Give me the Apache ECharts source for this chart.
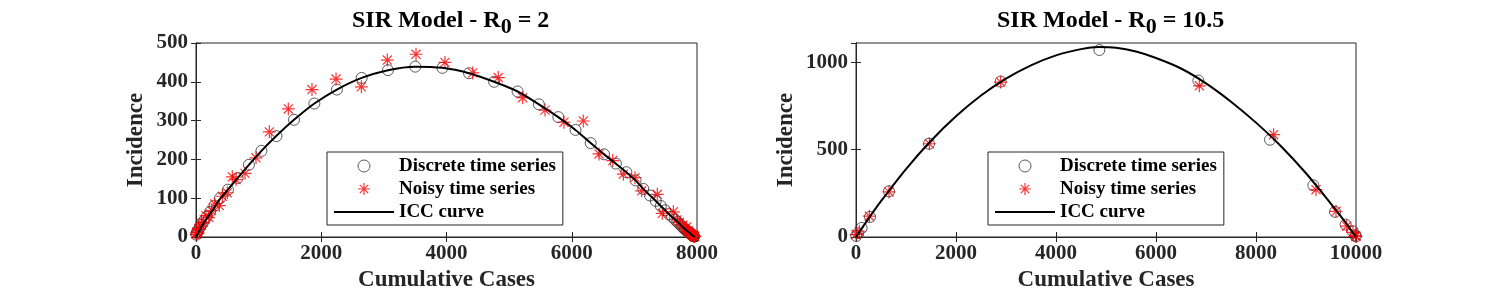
<!DOCTYPE html>
<html>
<head>
<meta charset="utf-8">
<script src="https://cdn.jsdelivr.net/npm/echarts@6/dist/echarts.min.js"></script>
<style>html,body{margin:0;padding:0;background:#fff}#c{width:1500px;height:300px}</style>
</head>
<body>
<div id="c"></div>
<script>
// ---- Data: [cumulative cases, incidence] ----
const seriesNames = ['Discrete time series', 'Noisy time series', 'ICC curve'];
const xAxisLabel = 'Cumulative Cases';
const yAxisLabel = 'Incidence';

// Left panel: SIR Model - R0 = 2
const r2Discrete = [[4,6],[12,10],[24,14],[40,19],[62,25],[90,32],[125,41],[170,52],[225,65],[295,81],[383,100],[510,122],[665,152],[845,186],[1045,222],[1285,260],[1565,302],[1890,344],[2250,380],[2645,410],[3065,430],[3502,439],[3935,436],[4360,422],[4760,400],[5135,375],[5475,342],[5785,309],[6060,276],[6302,242],[6516,213],[6705,189],[6872,167],[7018,146],[7142,124],[7249,107],[7342,93],[7422,80],[7491,69],[7550,59],[7602,52],[7647,45],[7686,39],[7720,34],[7749,29],[7774,25],[7796,22],[7815,19],[7832,17],[7847,15],[7860,13],[7872,11.5],[7882,10],[7891,9],[7899,8],[7906,7],[7912,6.2],[7918,5.5],[7923,4.9],[7927,4.3],[7931,3.8],[7935,3.4],[7938,3],[7941,2.7],[7944,2.4],[7946,2.1],[7948,1.9],[7950,1.7],[7952,1.5]];
const r2Noisy = [[5,7],[14,12],[26,11],[40,22],[60,20],[88,35],[118,38],[160,55],[205,50],[250,68],[300,85],[372,81],[420,105],[500,114],[580,155],[640,148],[783,164],[958,204],[1171,271],[1474,330],[1852,380],[2236,407],[2640,387],[3055,456],[3513,471],[3976,450],[4419,423],[4827,411],[5217,359],[5573,327],[5876,296],[6184,299],[6435,214],[6654,197],[6824,162],[7010,153],[7117,119],[7366,110],[7446,61],[7622,65],[7680,44],[7720,38],[7760,30],[7800,22],[7835,26],[7860,15],[7880,12],[7900,9],[7915,7],[7930,5],[7940,4],[7950,3],[7958,2],[7965,1]];
const r2Curve = [[0,0],[120,35],[260,68],[383,98],[510,122],[665,152],[845,186],[1045,222],[1285,261],[1565,302],[1890,344],[2250,380],[2645,410],[3065,430],[3500,439],[3935,436],[4360,422],[4760,400],[5135,375],[5475,342],[5785,309],[6060,276],[6302,242],[6516,213],[6705,189],[6872,167],[7018,146],[7142,124],[7249,107],[7342,93],[7422,80],[7491,69],[7550,59],[7647,45],[7720,34],[7774,25],[7832,17],[7872,11.5],[7899,8],[7931,3.8],[7952,1.5],[7968,0]];

// Right panel: SIR Model - R0 = 10.5
const r105Discrete = [[3,6],[40,22],[113,52],[280,115],[660,262],[1460,534],[2893,890],[4867,1071],[6847,896],[8280,557],[9147,296],[9580,144],[9793,71],[9933,33],[9985,10],[9998,3]];
const r105Noisy = [[0,14],[67,33],[267,119],[660,258],[1467,534],[2893,887],[4880,1115],[6867,866],[8353,586],[9200,271],[9600,147],[9813,62],[9940,26],[9990,8],[10000,3]];
const r105Curve = [[0,0],[250,105],[500,205],[1000,389],[1500,551],[2000,691],[2500,810],[3000,907],[3500,983],[4000,1040],[4500,1076],[4850,1088],[5200,1084],[5600,1062],[6000,1025],[6500,965],[7000,880],[7500,775],[8000,655],[8500,520],[9000,365],[9500,190],[9800,80],[10000,0]];

const panels = [
  {title: '2', xMax: 8000, xInterval: 2000, yMax: 500, yInterval: 100, discrete: r2Discrete, noisy: r2Noisy, curve: r2Curve},
  {title: '10.5', xMax: 10000, xInterval: 2000, yMax: 1111, yInterval: 500, discrete: r105Discrete, noisy: r105Noisy, curve: r105Curve}
];

// ---- Layout / style ----
const FONT = '"Liberation Serif", "Times New Roman", serif';
const AX = '#262626';
const STAR = 'path://M5,0L5,10M0,5L10,5M1.5,1.5L8.5,8.5M8.5,1.5L1.5,8.5';
const gridPos = [{left:196, top:43, width:501, height:194}, {left:856, top:43, width:500, height:194}];
const titlePos = [{left:347}, {left:992}];
const legendPos = [{left:327, top:152}, {left:988, top:152}];
const yNameGap = [48, 58];
const plain = v => String(v);

const grid = [], xAxis = [], yAxis = [], series = [], title = [], legend = [];
panels.forEach((p, k) => {
  grid.push(Object.assign({show: true, borderColor: AX, borderWidth: 1, backgroundColor: '#fff', containLabel: false}, gridPos[k]));
  const common = {
    axisLine: {show: true, lineStyle: {color: AX, width: 1}},
    axisTick: {show: true, inside: true, length: 5, lineStyle: {color: AX, width: 1}},
    splitLine: {show: false}
  };
  xAxis.push(Object.assign({type: 'value', gridIndex: k, position: 'bottom', min: 0, max: p.xMax, interval: p.xInterval,
    axisLabel: {fontFamily: FONT, fontWeight: 'bold', fontSize: 21, color: AX, margin: 6, formatter: plain},
    name: xAxisLabel, nameLocation: 'middle', nameGap: 32,
    nameTextStyle: {fontFamily: FONT, fontWeight: 'bold', fontSize: 23, color: AX}}, common));
  xAxis.push(Object.assign({type: 'value', gridIndex: k, position: 'top', min: 0, max: p.xMax, interval: p.xInterval,
    axisLabel: {show: false}}, common));
  yAxis.push(Object.assign({type: 'value', gridIndex: k, position: 'left', min: 0, max: p.yMax, interval: p.yInterval,
    axisLabel: {fontFamily: FONT, fontWeight: 'bold', fontSize: 21, color: AX, margin: 8, formatter: plain, showMaxLabel: p.yMax % p.yInterval === 0},
    name: yAxisLabel, nameLocation: 'middle', nameGap: yNameGap[k], nameRotate: 90,
    nameTextStyle: {fontFamily: FONT, fontWeight: 'bold', fontSize: 23, color: AX}}, common));
  yAxis.push(Object.assign({type: 'value', gridIndex: k, position: 'right', min: 0, max: p.yMax, interval: p.yInterval,
    axisLabel: {show: false}}, common));

  series.push({name: seriesNames[0], type: 'scatter', xAxisIndex: 2*k, yAxisIndex: 2*k, data: p.discrete,
    symbol: 'circle', symbolSize: 11,
    itemStyle: {color: 'rgba(255,255,255,0)', borderColor: '#333', borderWidth: 1}, emphasis: {disabled: true}, z: 2});
  series.push({name: seriesNames[1], type: 'scatter', xAxisIndex: 2*k, yAxisIndex: 2*k, data: p.noisy,
    symbol: STAR, symbolSize: 13,
    itemStyle: {color: '#ff0000', borderColor: '#ff0000', borderWidth: 1.2}, emphasis: {disabled: true}, z: 3});
  series.push({name: seriesNames[2], type: 'line', xAxisIndex: 2*k, yAxisIndex: 2*k, data: p.curve,
    smooth: 0.3, symbol: 'none', showSymbol: false,
    lineStyle: {color: '#000', width: 2}, itemStyle: {color: '#000'}, emphasis: {disabled: true}, z: 4});

  title.push({
    text: '{a|SIR Model - R}{s|0}{a| = ' + p.title + '}',
    left: titlePos[k].left, top: 4,
    textStyle: {
      rich: {
        a: {fontFamily: FONT, fontWeight: 'bold', fontSize: 24, color: '#000', verticalAlign: 'top', lineHeight: 26},
        s: {fontFamily: FONT, fontWeight: 'bold', fontSize: 22, color: '#000', verticalAlign: 'top', lineHeight: 26, padding: [7,0,0,0]}
      }
    }
  });

  legend.push({
    orient: 'vertical', left: legendPos[k].left, top: legendPos[k].top,
    padding: [4, 7, 3, 7], itemGap: 3, itemWidth: 60, itemHeight: 12,
    borderColor: AX, borderWidth: 1, backgroundColor: '#fff', selectedMode: false,
    textStyle: {fontFamily: FONT, fontWeight: 'bold', fontSize: 19, color: '#000', lineHeight: 20},
    data: [
      {name: seriesNames[0], icon: 'circle', itemStyle: {color: 'rgba(255,255,255,0)', borderColor: '#333', borderWidth: 1}},
      {name: seriesNames[1], icon: STAR, itemStyle: {color: '#ff0000', borderColor: '#ff0000', borderWidth: 1.2}},
      {name: seriesNames[2], icon: 'path://M0,0L60,0L60,2L0,2Z', itemStyle: {color: '#000', borderWidth: 0}}
    ]
  });
});

const chart = echarts.init(document.getElementById('c'), null, {renderer: 'canvas'});
chart.setOption({animation: false, backgroundColor: '#fff', title, grid, xAxis, yAxis, series, legend});
</script>
</body>
</html>
